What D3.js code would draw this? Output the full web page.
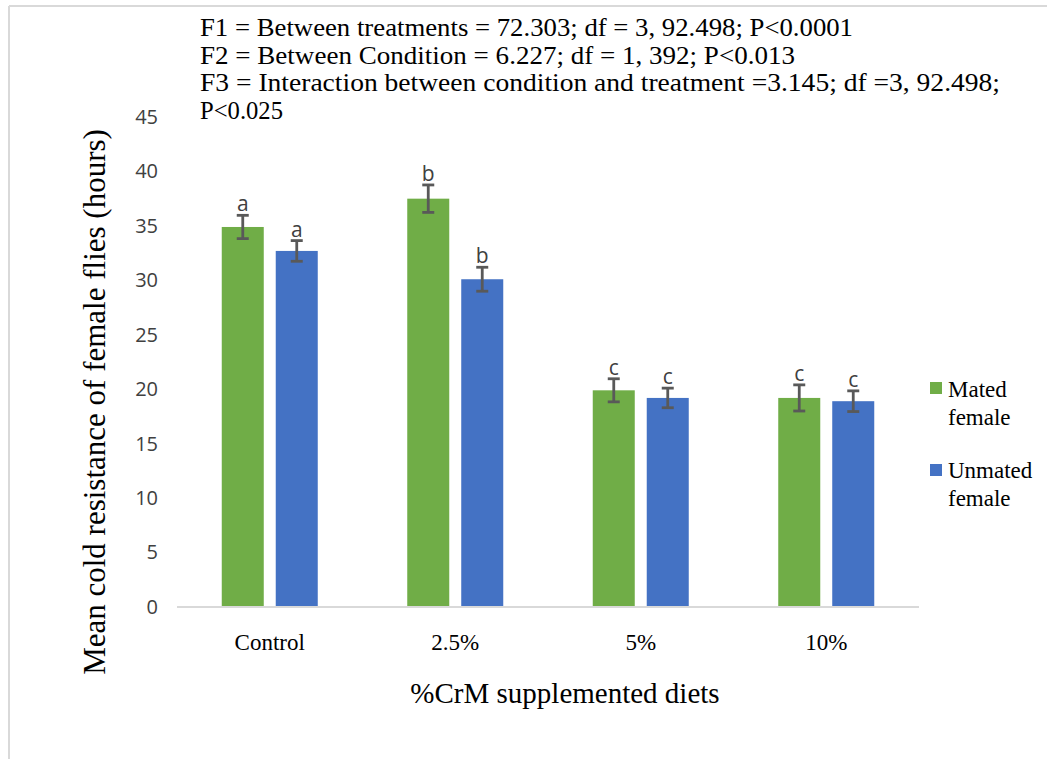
<!DOCTYPE html>
<html>
<head>
<meta charset="utf-8">
<script src="https://cdn.jsdelivr.net/npm/d3@7"></script>
<style>
  html, body { margin: 0; padding: 0; background: #fff; }
  svg { display: block; }
</style>
</head>
<body>
<svg id="chart" width="1047" height="759"></svg>
<script>
// Diet groups and the two female conditions
const categories = ["Control", "2.5%", "5%", "10%"];
const seriesNames = ["Mated female", "Unmated female"];

// Mean cold resistance (hours) and standard errors
const matedMeans = [34.9, 37.5, 19.9, 19.2];
const unmatedMeans = [32.7, 30.1, 19.2, 18.9];
const matedErrors = [1.07, 1.26, 1.06, 1.2];
const unmatedErrors = [0.95, 1.1, 0.9, 0.95];

// Significance group letters
const matedLetters = ["a", "b", "c", "c"];
const unmatedLetters = ["a", "b", "c", "c"];

// Axis ticks
const yTicks = [0, 5, 10, 15, 20, 25, 30, 35, 40, 45];

// Statistics text block
const statLines = [
  "F1 = Between treatments = 72.303; df = 3, 92.498; P<0.0001",
  "F2 = Between Condition = 6.227; df = 1, 392; P<0.013",
  "F3 = Interaction between condition and treatment =3.145; df =3, 92.498;",
  "P<0.025"
];
const statWidths = [653, 595, 800, 83];

const colors = ["#70AD47", "#4472C4"];
const serif = "'Liberation Serif', 'Times New Roman', serif";
const sans = "'Open Sans', 'Noto Sans', sans-serif";

const svg = d3.select("#chart");

// Frame lines
svg.append("line").attr("x1", 9).attr("x2", 1047).attr("y1", 6).attr("y2", 6)
  .attr("stroke", "#d9d9d9").attr("stroke-width", 2);
svg.append("line").attr("x1", 9).attr("x2", 9).attr("y1", 6).attr("y2", 759)
  .attr("stroke", "#d9d9d9").attr("stroke-width", 2);

const plot = { left: 177, right: 919, top: 117, bottom: 607 };

const y = d3.scaleLinear().domain([0, 45]).range([plot.bottom, plot.top]);
const x0 = d3.scaleBand().domain(categories)
  .range([plot.left, plot.right])
  .paddingInner(0.4825).paddingOuter(0.24125);
const x1 = d3.scaleBand().domain(seriesNames)
  .range([0, x0.bandwidth()])
  .paddingInner(0.222);

const rows = categories.map((c, i) => ({
  cat: c,
  bars: [
    { s: seriesNames[0], v: matedMeans[i], e: matedErrors[i], l: matedLetters[i], ci: 0 },
    { s: seriesNames[1], v: unmatedMeans[i], e: unmatedErrors[i], l: unmatedLetters[i], ci: 1 }
  ]
}));

// Y axis tick labels (no axis line)
const yAxis = d3.axisLeft(y).tickValues(yTicks).tickSize(0).tickPadding(0);
const gy = svg.append("g").attr("transform", `translate(158,0)`).call(yAxis);
gy.select(".domain").remove();
gy.selectAll("text")
  .attr("font-family", sans).attr("font-size", 20).attr("fill", "#404040");

// Bars
const groups = svg.append("g").selectAll("g").data(rows).join("g")
  .attr("transform", d => `translate(${x0(d.cat)},0)`);

groups.selectAll("rect").data(d => d.bars).join("rect")
  .attr("x", d => x1(d.s))
  .attr("width", x1.bandwidth())
  .attr("y", d => y(d.v))
  .attr("height", d => y(0) - y(d.v))
  .attr("fill", d => colors[d.ci]);

// Error bars
const capW = 12;
const eb = groups.selectAll("g.err").data(d => d.bars).join("g").attr("class", "err")
  .attr("stroke", "#595959").attr("stroke-width", 2.8);
eb.append("line")
  .attr("x1", d => x1(d.s) + x1.bandwidth() / 2)
  .attr("x2", d => x1(d.s) + x1.bandwidth() / 2)
  .attr("y1", d => y(d.v + d.e)).attr("y2", d => y(d.v - d.e));
eb.append("line")
  .attr("x1", d => x1(d.s) + x1.bandwidth() / 2 - capW / 2)
  .attr("x2", d => x1(d.s) + x1.bandwidth() / 2 + capW / 2)
  .attr("y1", d => y(d.v + d.e)).attr("y2", d => y(d.v + d.e));
eb.append("line")
  .attr("x1", d => x1(d.s) + x1.bandwidth() / 2 - capW / 2)
  .attr("x2", d => x1(d.s) + x1.bandwidth() / 2 + capW / 2)
  .attr("y1", d => y(d.v - d.e)).attr("y2", d => y(d.v - d.e));

// Group letters above error bars
groups.selectAll("text.letter").data(d => d.bars).join("text").attr("class", "letter")
  .attr("x", d => x1(d.s) + x1.bandwidth() / 2)
  .attr("y", d => y(d.v + d.e) - 4)
  .attr("text-anchor", "middle")
  .attr("font-family", sans).attr("font-size", 21).attr("fill", "#404040")
  .text(d => d.l);

// X axis baseline
svg.append("line")
  .attr("x1", plot.left).attr("x2", plot.right)
  .attr("y1", y(0)).attr("y2", y(0))
  .attr("stroke", "#d9d9d9").attr("stroke-width", 2);

// X category labels
const xAxis = d3.axisBottom(x0).tickSize(0).tickPadding(0);
const gx = svg.append("g").attr("transform", `translate(0,634)`).call(xAxis);
gx.select(".domain").remove();
gx.selectAll("text")
  .attr("font-family", serif).attr("font-size", 23).attr("fill", "#000")
  .attr("dy", "0.71em");

// Axis titles
svg.append("text")
  .attr("x", 565).attr("y", 703)
  .attr("text-anchor", "middle")
  .attr("font-family", serif).attr("font-size", 29).attr("fill", "#000")
  .text("%CrM supplemented diets");

svg.append("text")
  .attr("transform", "translate(105,402) rotate(-90)")
  .attr("text-anchor", "middle")
  .attr("font-family", serif).attr("font-size", 31).attr("fill", "#000")
  .text("Mean cold resistance of female flies (hours)");

// Statistics block
svg.append("g").selectAll("text").data(statLines).join("text")
  .attr("x", 200)
  .attr("y", (d, i) => 36 + i * 27.6)
  .attr("font-family", serif).attr("font-size", 25).attr("fill", "#000")
  .attr("textLength", (d, i) => statWidths[i])
  .attr("lengthAdjust", "spacingAndGlyphs")
  .text(d => d);

// Legend
const legend = svg.append("g");
const legendRows = [
  { lines: ["Mated", "female"], sq: 382, base: 397 },
  { lines: ["Unmated", "female"], sq: 464, base: 478 }
];
legendRows.forEach((r, i) => {
  legend.append("rect").attr("x", 930).attr("y", r.sq).attr("width", 12).attr("height", 12)
    .attr("fill", colors[i]);
  r.lines.forEach((t, j) => {
    legend.append("text").attr("x", 948).attr("y", r.base + j * 27.5)
      .attr("font-family", serif).attr("font-size", 23).attr("fill", "#000")
      .text(t);
  });
});
</script>
</body>
</html>
